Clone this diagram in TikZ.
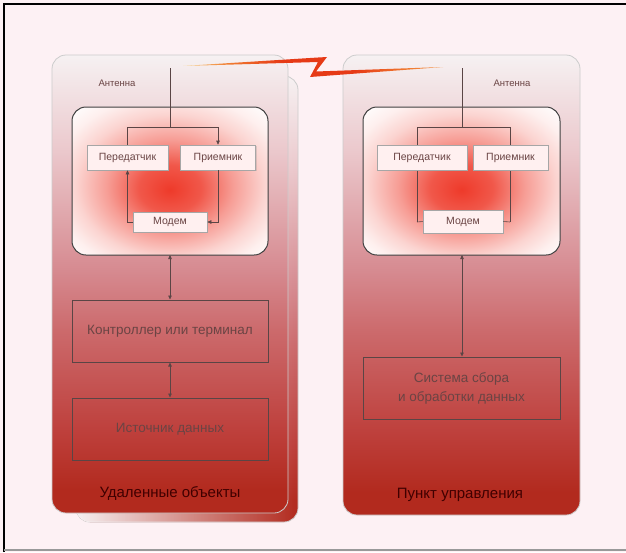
\documentclass[tikz,border=0pt]{standalone}
\usepackage{fontspec}
\setmainfont{Liberation Sans}
\usepackage{xcolor}
\usepackage{tikz}
\usetikzlibrary{arrows.meta,shadows,fadings}

\definecolor{bgpink}{HTML}{FDF1F4}
\definecolor{pdark}{HTML}{B22A1E}
\definecolor{pmidA}{HTML}{BE403C}
\definecolor{pmidB}{HTML}{CC6A6C}
\definecolor{pmidC}{HTML}{D68A90}
\definecolor{plight}{HTML}{EBC8CC}
\definecolor{ptop}{HTML}{F6F1F2}
\definecolor{glowc}{HTML}{EE3A2A}
\definecolor{txtc}{HTML}{6A4444}
\definecolor{linec}{HTML}{5A4545}
\definecolor{boltc}{HTML}{E63A16}
\definecolor{boltA}{HTML}{F8D890}
\definecolor{boltB}{HTML}{F07A30}

\pgfdeclareverticalshading{panelshade}{100bp}{color(0bp)=(pdark); color(25bp)=(pdark);
  color(27.5bp)=(pdark); color(34bp)=(pmidA); color(45bp)=(pmidB); color(51.5bp)=(pmidC);
  color(64.5bp)=(plight); color(75bp)=(ptop); color(100bp)=(ptop)}
\pgfdeclareradialshading{glow}{\pgfpoint{0bp}{-3bp}}{color(0bp)=(glowc); color(8bp)=(glowc!85!white);
  color(16bp)=(glowc!50!white); color(24bp)=(glowc!22!white); color(30bp)=(glowc!8!white);
  color(36bp)=(white); color(50bp)=(white)}
\pgfdeclarehorizontalshading{boltshade}{100bp}{color(0bp)=(boltA); color(25bp)=(boltA);
  color(34bp)=(boltB); color(44bp)=(boltc); color(58bp)=(boltc); color(68bp)=(boltB);
  color(75bp)=(boltB!70!boltA); color(100bp)=(boltA)}

\begin{document}
\begin{tikzpicture}[x=1pt,y=-1pt,
    panel/.style={draw=black!20,line width=0.8pt,rounded corners=14pt,shading=panelshade},
    inner/.style={draw=black!75,line width=1pt,rounded corners=14pt,shading=glow},
    unit/.style={draw=black!35,fill=red!6,line width=0.6pt,minimum height=25pt,
      font=\fontsize{10.5}{12}\selectfont,text=txtc,inner sep=0pt,
      drop shadow={shadow xshift=1pt,shadow yshift=-1pt,opacity=0.25}},
    block/.style={draw=linec,line width=1pt,minimum width=196pt,minimum height=62pt,
      font=\fontsize{13.5}{19}\selectfont,text=txtc,align=center},
    wire/.style={draw=linec,line width=0.6pt},
    onetip/.style={-{Triangle[length=4pt,width=3.5pt]}},
    twotips/.style={{Triangle[length=4pt,width=3.5pt]}-{Triangle[length=4pt,width=3.5pt]}},
    captext/.style={font=\fontsize{15}{17}\selectfont,text=black!75!red}]
    \useasboundingbox (0,0) rectangle (626,552);
    \fill[bgpink] (0,0) rectangle (626,552);
    \draw[black,line width=2pt] (4,552) -- (4,4) -- (626,4);
    \draw[black!40,line width=1.5pt] (4,550) -- (626,550);

    % panels
    \path[panel] (76,76) rectangle (298,522);
    \fill[ptop,path fading=east,rounded corners=14pt] (76,76) rectangle (298,522);
    \path[panel] (52,55) rectangle (288,513);
    \path[panel] (343,55) rectangle (580,515);

    % radio link
    \shade[shading=boltshade]
      (183,66) -- (318,57.5) -- (327,57) -- (316,71.5) -- (443,67) -- (310,77) -- (318,62) -- cycle;

    % inner boxes
    \path[inner] (72,107) rectangle (268,255);
    \path[inner] (363,107) rectangle (560,255);
    \coordinate (in1) at (170,255);
    \coordinate (in2) at (462,255);

    \node[text=txtc,font=\fontsize{9.5}{11}\selectfont] (ant1) at (117,83) {Антенна};
    \node[text=txtc,font=\fontsize{9.5}{11}\selectfont] (ant2) at (512,83) {Антенна};

    % left transceiver
    \coordinate (top1) at (170,68);
    \coordinate (fork1) at (170,127);
    \coordinate (fl1) at (127.5,127);
    \coordinate (fr1) at (218,127);
    \coordinate (bl1) at (127.5,222);
    \coordinate (br1) at (218,222);
    \node[unit,minimum width=81pt] (tx1) at (127.5,157.5) {Передатчик};
    \node[unit,minimum width=75pt] (rx1) at (218,157.5) {Приемник};
    \node[unit,minimum width=74pt,minimum height=20pt] (modem1) at (170,222) {Модем};
    \path[wire] (top1) -- (fork1);
    \path[wire] (fl1) -- (fr1);
    \path[wire] (fl1) -- (tx1.north);
    \path[wire,onetip] (fr1) -- (rx1.north);
    \path[wire,onetip] (rx1.south) -- (br1) -- (modem1.east);
    \path[wire,onetip] (modem1.west) -- (bl1) -- (tx1.south);

    % right transceiver
    \coordinate (top2) at (462,68);
    \coordinate (fork2) at (462,127);
    \coordinate (fl2) at (417,127);
    \coordinate (fr2) at (510,127);
    \coordinate (bl2) at (417,222);
    \coordinate (br2) at (510,222);
    \path[wire] (top2) -- (fork2);
    \path[wire] (fl2) -- (fr2);
    \path[wire] (fl2) -- (bl2);
    \path[wire] (fr2) -- (br2);
    \node[unit,minimum width=90pt] (tx2) at (422,157.5) {Передатчик};
    \node[unit,minimum width=75pt] (rx2) at (510.5,157.5) {Приемник};
    \node[unit,minimum width=80pt,minimum height=23pt] (modem2) at (463,221.5) {Модем};
    \path[wire] (bl2) -- (modem2.west);
    \path[wire] (br2) -- (modem2.east);

    % lower blocks
    \node[block] (ctrl) at (170,331) {Контроллер или терминал};
    \node[block] (src) at (170,429) {Источник данных};
    \node[block,minimum width=197pt] (coll) at (461.5,388) {Система сбора\\и обработки данных};
    \path[wire,twotips] (in1) -- (ctrl.north);
    \path[wire,twotips] (ctrl.south) -- (src.north);
    \path[wire,twotips] (in2) -- (in2 |- coll.north);

    \node[captext] (obj) at (170,493) {Удаленные объекты};
    \node[captext] (ctl) at (460,495) {Пункт управления};
\end{tikzpicture}
\end{document}
